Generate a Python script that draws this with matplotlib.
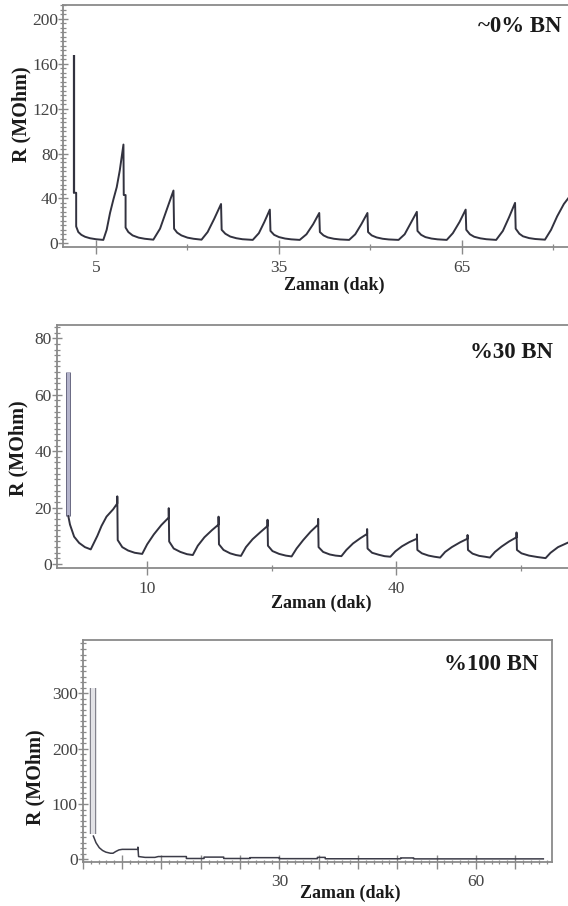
import matplotlib
matplotlib.use("Agg")
import matplotlib.pyplot as plt
import matplotlib.patheffects as pe
from matplotlib.ticker import FixedLocator, MultipleLocator, FixedFormatter

# ---------------- data ----------------
# Panel 1: ~0% BN
spike1_t = [1.4, 1.4]
spike1_r = [168, 45]
t1 = [1.4, 1.75, 1.75, 2.1, 2.6, 3.2, 4.0, 5.0, 6.2,
      6.75, 7.3, 7.85, 8.4, 8.9, 9.5, 9.55, 9.85, 9.85, 10.3, 11.0, 12.0, 13.0, 14.4,
      15.5, 16.6, 17.7, 17.8, 18.3, 19.0, 20.0, 21.0, 22.3,
      23.3, 24.4, 25.5, 25.6, 26.2, 27.0, 28.0, 29.0, 30.7,
      31.7, 32.6, 33.5, 33.6, 34.2, 35.0, 36.0, 37.0, 38.4,
      39.5, 40.6, 41.6, 41.7, 42.3, 43.0, 44.0, 45.0, 46.5,
      47.5, 48.5, 49.5, 49.6, 50.2, 51.0, 52.0, 53.0, 54.6,
      55.6, 56.6, 57.6, 57.7, 58.3, 59.0, 60.0, 61.0, 62.5,
      63.5, 64.6, 65.6, 65.7, 66.3, 67.0, 68.0, 69.0, 70.6,
      71.7, 72.7, 73.7, 73.8, 74.4, 75.0, 76.0, 77.0, 78.6,
      79.6, 80.6, 81.7, 82.4]
r1 = [45, 45, 15, 10, 7.5, 5.8, 4.5, 3.6, 3.0,
      12, 27, 39, 50, 65, 88, 43, 43, 14, 10, 7, 5, 4, 3.2,
      13, 30, 47, 13, 9.5, 7, 5, 4, 3.2,
      10, 22, 35, 12, 8.5, 6, 4.5, 3.6, 3.0,
      9, 19, 30, 11, 7.5, 5.5, 4.2, 3.5, 3.0,
      8, 17, 27, 10, 7, 5.2, 4.0, 3.4, 3.0,
      8, 17, 27, 10, 7, 5.2, 4.0, 3.4, 3.0,
      8, 18, 28, 11, 7.5, 5.5, 4.2, 3.5, 3.0,
      9, 19, 30, 12, 8, 5.8, 4.4, 3.6, 3.0,
      11, 23, 36, 13, 8.5, 6.2, 4.6, 3.8, 3.2,
      12, 24, 35, 40]

# Panel 2: %30 BN
spike2_t = [0.5, 0.5]
spike2_r = [68, 17]
t2 = [0.5, 0.7, 1.2, 1.8, 2.5, 3.2,
      3.5, 4.0, 4.5, 5.1, 5.9, 6.4, 6.4, 6.45, 7.0, 7.7, 8.5, 9.4,
      10.0, 10.8, 11.7, 12.6, 12.6, 12.65, 13.2, 14.0, 14.8, 15.5,
      16.1, 16.9, 17.8, 18.6, 18.6, 18.65, 19.2, 20.0, 20.7, 21.3,
      21.9, 22.7, 23.6, 24.5, 24.5, 24.55, 25.1, 25.9, 26.7, 27.4,
      28.0, 28.8, 29.7, 30.6, 30.6, 30.65, 31.2, 32.0, 32.7, 33.4,
      34.0, 34.8, 35.7, 36.5, 36.5, 36.55, 37.1, 37.9, 38.6, 39.3,
      39.9, 40.7, 41.6, 42.5, 42.5, 42.55, 43.1, 43.9, 44.6, 45.3,
      45.9, 46.7, 47.7, 48.6, 48.6, 48.65, 49.2, 50.0, 50.7, 51.3,
      51.9, 52.7, 53.6, 54.5, 54.5, 54.55, 55.1, 56.0, 57.0, 58.0,
      58.6, 59.5, 60.7, 61.5]
r2 = [17, 14, 9.7, 7.5, 6.0, 5.2,
      7, 10, 13.5, 16.8, 19.4, 21.5, 24, 8.5, 6, 4.8, 4, 3.6,
      7, 10.5, 13.8, 16.5, 19.8, 8, 5.5, 4.3, 3.5, 3.2,
      6.5, 9.5, 12, 14, 16.8, 7, 5, 3.8, 3.2, 2.9,
      6, 8.8, 11.2, 13.5, 15.7, 6.5, 4.6, 3.6, 3.0, 2.7,
      5.5, 8.5, 11.5, 14, 16, 6, 4.3, 3.4, 3.0, 2.8,
      5, 7.3, 9.2, 10.7, 12.4, 5.5, 4.0, 3.3, 2.8, 2.6,
      4.5, 6.3, 7.8, 9, 10.5, 5, 3.8, 3.0, 2.6, 2.3,
      4.3, 6, 7.7, 9, 10.3, 5, 3.7, 2.9, 2.6, 2.3,
      4.3, 6.2, 8, 9.5, 11.2, 5, 3.8, 3.0, 2.5, 2.1,
      4, 6, 7.6, 8.4]

# Panel 3: %100 BN
spike3_t = [1.5, 1.5]
spike3_r = [310, 45]
t3 = [1.6, 2.0, 2.5, 3.0, 3.5, 4.2, 4.6, 5.0, 5.5, 6.0, 8.4, 8.4, 8.5, 9.5, 11.0,
      11.5, 15.8, 15.8, 18.5, 18.5, 21.5, 21.5, 25.5, 25.5, 30.0, 30.0,
      35.8, 35.8, 37.0, 37.0, 48.5, 48.5, 50.5, 50.5, 70.3]
r3 = [42, 30, 21, 16, 13, 11, 11, 14, 17, 18, 18, 22, 5, 3.5, 3.5,
      5, 5, 1.5, 1.5, 4, 4, 1.5, 1.5, 3, 3, 1.2,
      1.2, 3.5, 3.5, 1.0, 1.0, 2.5, 2.5, 0.8, 0.8]

# ticks / labels
xt1_major = [5, 35, 65]
xt1_minor = [20, 50, 80]
yt1_major = [0, 40, 80, 120, 160, 200]
xt2_major = [10, 40]
xt2_minor = [25, 55]
yt2_major = [0, 20, 40, 60, 80]
xt3_major = [0, 6, 12, 18, 24, 30, 36, 42, 48, 54, 60, 66]
xt3_labels = ["", "", "", "", "", "30", "", "", "", "", "60", ""]
yt3_major = [0, 100, 200, 300]
titles = ["~0% BN", "%30 BN", "%100 BN"]
xlabel = "Zaman (dak)"
ylabel = "R (MOhm)"

# ---------------- figure ----------------
W, H = 568, 906
fig = plt.figure(figsize=(W / 100, H / 100), dpi=100)
serif = ["Liberation Serif", "DejaVu Serif"]
line_c = "#32323f"
spine_c = "#8a8a8a"
tick_c = "#444444"


def fx(px):
    return px / W


def fy(py):
    return 1 - py / H


def make_ax(left, right, top, bottom):
    return fig.add_axes([fx(left), fy(bottom), fx(right) - fx(left), fy(top) - fy(bottom)])


def style(ax, ymin_step):
    for s in ax.spines.values():
        s.set_color(spine_c)
        s.set_linewidth(1.3)
    ax.tick_params(axis="both", which="major", direction="inout", color=spine_c,
                   width=1.0, labelcolor=tick_c, labelsize=12.5)
    ax.tick_params(axis="x", which="major", length=10, pad=4)
    ax.tick_params(axis="y", which="major", length=7, pad=0)
    ax.tick_params(axis="both", which="minor", direction="inout", color=spine_c,
                   width=0.9)
    ax.tick_params(axis="x", which="minor", length=5)
    ax.tick_params(axis="y", which="minor", length=4.5)
    ax.yaxis.set_minor_locator(MultipleLocator(ymin_step))
    ax.tick_params(top=False, right=False, which="both")
    for lab in ax.get_xticklabels() + ax.get_yticklabels():
        lab.set_family(serif)


# Panel 1
ax1 = make_ax(63.3, 63.3 + (85 + 0.36) * 6.1, 5, 247.3)
ax1.plot(spike1_t, spike1_r, color=line_c, lw=1.6, solid_capstyle="butt")
ax1.plot(t1, r1, color=line_c, lw=1.4)
ax1.set_xlim(-0.36, 85)
ax1.set_ylim(-3.6, 212.4)
ax1.xaxis.set_major_locator(FixedLocator(xt1_major))
ax1.xaxis.set_minor_locator(FixedLocator(xt1_minor))
ax1.yaxis.set_major_locator(FixedLocator(yt1_major))
style(ax1, 4)

# Panel 2
ax2 = make_ax(56.7, 56.7 + (63 + 0.9) * 8.3, 325, 568.3)
ax2.plot(spike2_t, spike2_r, color="#b4b4cc", lw=2.2, solid_capstyle="butt",
         path_effects=[pe.Stroke(linewidth=3.6, foreground="#6a6a84"), pe.Normal()])
ax2.plot(t2, r2, color=line_c, lw=1.4)
ax2.set_xlim(-0.9, 63)
ax2.set_ylim(-1.5, 84.7)
ax2.xaxis.set_major_locator(FixedLocator(xt2_major))
ax2.xaxis.set_minor_locator(FixedLocator(xt2_minor))
ax2.yaxis.set_major_locator(FixedLocator(yt2_major))
style(ax2, 2)

# Panel 3
ax3 = make_ax(82.7, 552.3, 640, 861.7)
ax3.plot(spike3_t, spike3_r, color="#e2e2e6", lw=3.0, solid_capstyle="butt",
         path_effects=[pe.Stroke(linewidth=4.6, foreground="#7a7a84"), pe.Normal()])
ax3.plot(t3, r3, color="#3c3c48", lw=1.1)
ax3.set_xlim(-0.03, 71.67)
ax3.set_ylim(-4.3, 396.3)
ax3.xaxis.set_major_locator(FixedLocator(xt3_major))
ax3.xaxis.set_major_formatter(FixedFormatter(xt3_labels))
ax3.xaxis.set_minor_locator(MultipleLocator(1.2))
ax3.yaxis.set_major_locator(FixedLocator(yt3_major))
style(ax3, 10)
ax3.tick_params(axis="x", which="minor", length=3)

# Texts
tkw = dict(family=serif, fontweight="bold", color="#1a1a1a")
fig.text(fx(561), fy(27), titles[0], ha="right", va="center", fontsize=16.5, **tkw)
fig.text(fx(553), fy(353), titles[1], ha="right", va="center", fontsize=16.5, **tkw)
fig.text(fx(538.5), fy(665), titles[2], ha="right", va="center", fontsize=16.5, **tkw)

fig.text(fx(21.7), fy(114.5), ylabel, rotation=90, ha="center", va="center", fontsize=14.5, **tkw)
fig.text(fx(18.3), fy(448.3), ylabel, rotation=90, ha="center", va="center", fontsize=14.5, **tkw)
fig.text(fx(35), fy(776.7), ylabel, rotation=90, ha="center", va="center", fontsize=14.5, **tkw)

fig.text(fx(333.8), fy(285), xlabel, ha="center", va="center", fontsize=13, **tkw)
fig.text(fx(321.5), fy(603), xlabel, ha="center", va="center", fontsize=13, **tkw)
fig.text(fx(350), fy(893.3), xlabel, ha="center", va="center", fontsize=13, **tkw)

fig.savefig("out.png", dpi=100)
